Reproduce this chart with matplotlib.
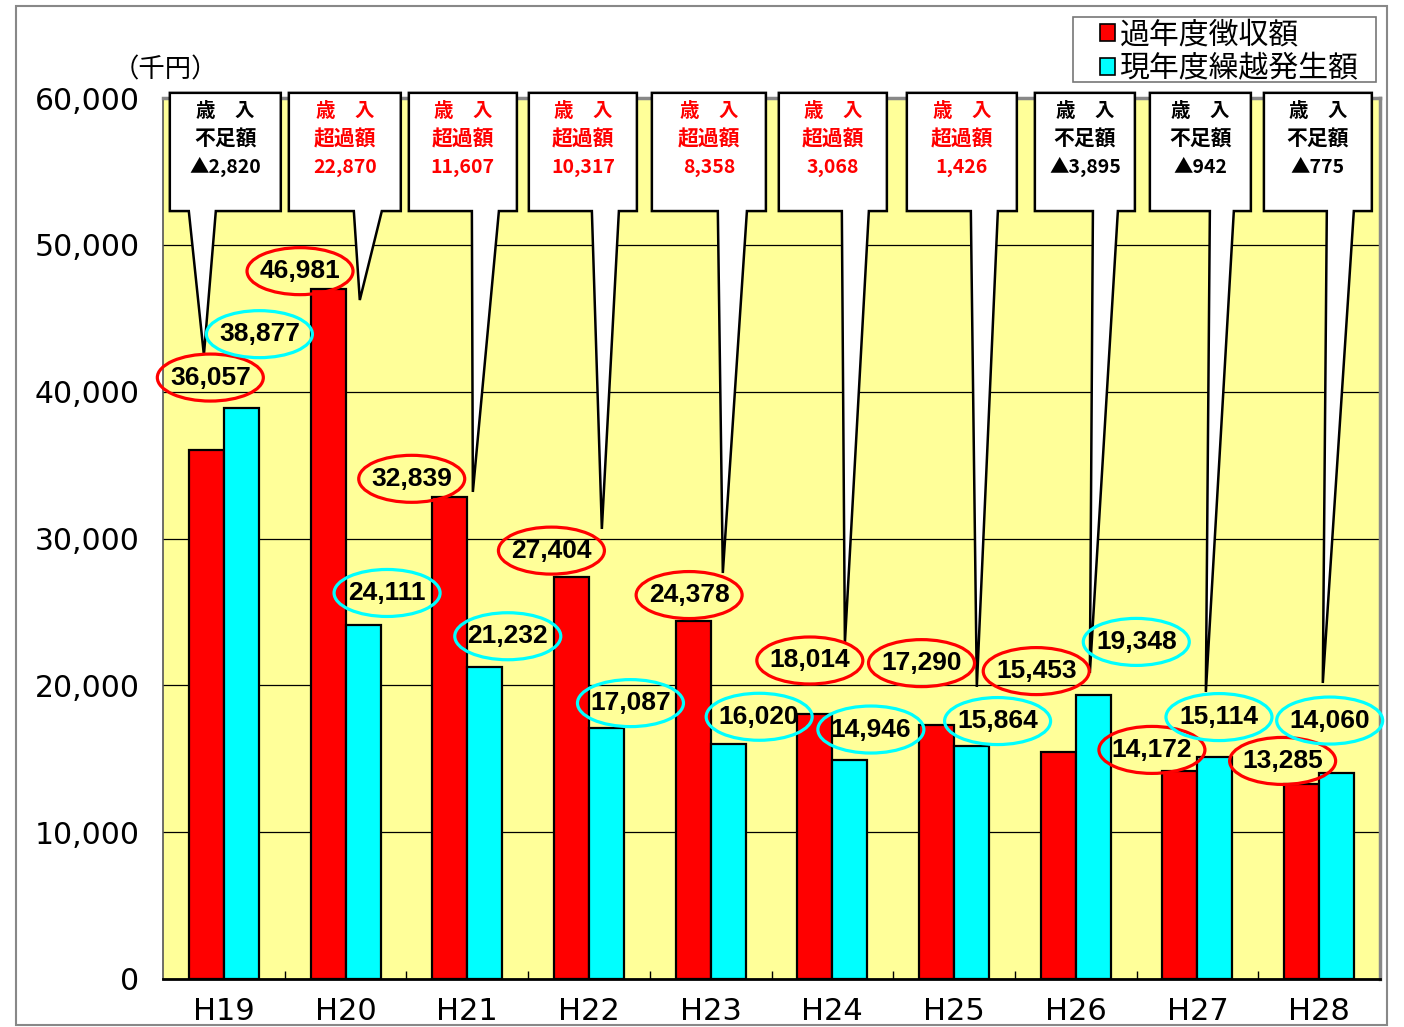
import matplotlib.pyplot as plt
from matplotlib.patches import Patch, Polygon, Rectangle, Ellipse
from matplotlib.ticker import FuncFormatter

# data (千円)
years = ['H19', 'H20', 'H21', 'H22', 'H23', 'H24', 'H25', 'H26', 'H27', 'H28']
collected = [36057, 46981, 32839, 27404, 24378, 18014, 17290, 15453, 14172, 13285]
carried = [38877, 24111, 21232, 17087, 16020, 14946, 15864, 19348, 15114, 14060]
balance = [-2820, 22870, 11607, 10317, 8358, 3068, 1426, -3895, -942, -775]

# layout: label offsets (pixels) from bar tops
red_off = [(4, 72), (-28, 18), (-38, 18), (-20, 26), (-4, 26),
           (-5, 54), (-15, 62), (-22, 81), (-28, 21), (-19, 23)]
cyan_off = [(18, 74), (24, 32), (23, 31), (24, 25), (31, 27),
            (21, 30), (26, 25), (43, 53), (4, 40), (-7, 52)]

# callout geometry: box left/right, wedge base left/right, tip dx, tip y
callout_geo = [
    (-0.444, 0.468, -0.288, -0.066, -0.164, 42500),
    (-0.466, 0.454, 0.068, 0.298, 0.117, 46240),
    (-0.480, 0.408, 0.038, 0.260, 0.046, 33170),
    (-0.494, 0.394, 0.024, 0.246, 0.106, 30650),
    (-0.483, 0.454, 0.059, 0.298, 0.100, 27650),
    (-0.440, 0.448, 0.078, 0.300, 0.103, 22880),
    (-0.388, 0.516, 0.138, 0.360, 0.187, 19890),
    (-0.336, 0.486, 0.141, 0.346, 0.116, 20840),
    (-0.391, 0.439, 0.102, 0.299, 0.069, 19550),
    (-0.454, 0.433, 0.063, 0.285, 0.030, 20160),
]
box_top, box_bot = 60350, 52300
ell_w, ell_h = 106, 47  # ellipse size in pixels

RED = '#FF0000'
CYAN = '#00FFFF'
BG = '#FFFF99'
CJK = ['Noto Sans CJK JP', 'DejaVu Sans']
NUM = ['Liberation Sans', 'Noto Sans CJK JP']

fig = plt.figure(figsize=(14.04, 10.27), dpi=100)
ax = fig.add_axes([163 / 1404, 1 - 979 / 1027, 1217 / 1404, 881 / 1027])
ax.set_facecolor(BG)

x = list(range(len(years)))
w = 0.288
ax.bar([i - w / 2 for i in x], collected, w, color=RED, edgecolor='black', linewidth=1.6, zorder=3)
ax.bar([i + w / 2 for i in x], carried, w, color=CYAN, edgecolor='black', linewidth=1.6, zorder=3)

ax.set_xlim(-0.5, 9.5)
ax.set_ylim(0, 60000)
ax.set_yticks(range(0, 60001, 10000))
ax.yaxis.set_major_formatter(FuncFormatter(lambda v, p: f'{int(v):,}'))
ax.grid(axis='y', color='black', linewidth=0.9, zorder=1)
ax.set_axisbelow(True)
ax.set_xticks(x)
ax.set_xticklabels(years)
ax.set_xticks([i + 0.5 for i in x[:-1]], minor=True)
ax.tick_params(axis='x', which='major', length=0, pad=13, labelsize=22)
ax.tick_params(axis='x', which='minor', direction='in', length=6, width=1)
ax.tick_params(axis='y', length=0, pad=17, labelsize=21.5)
for lab in ax.get_xticklabels() + ax.get_yticklabels():
    lab.set_family('DejaVu Sans')

ax.spines['left'].set_color('#555555')
ax.spines['left'].set_linewidth(1.2)
ax.spines['bottom'].set_color('black')
ax.spines['bottom'].set_linewidth(2)
ax.spines['top'].set_color('#888888')
ax.spines['top'].set_linewidth(2.5)
ax.spines['right'].set_color('#888888')
ax.spines['right'].set_linewidth(2.5)

# pixels per data unit
px_x = ax.bbox.width / 10.0
px_y = ax.bbox.height / 60000.0


def oval_label(xc, val, off, ec):
    cx = xc + off[0] / px_x
    cy = val + off[1] / px_y
    ax.text(cx, cy, f'{val:,}', ha='center', va='center', fontsize=19,
            fontweight='bold', family=NUM, zorder=6)
    ax.add_patch(Ellipse((cx, cy), ell_w / px_x, ell_h / px_y, fc='none',
                         ec=ec, lw=2.3, zorder=6, clip_on=False))


for i in x:
    oval_label(i - w / 2, collected[i], red_off[i], RED)
    oval_label(i + w / 2, carried[i], cyan_off[i], CYAN)

# callouts
for i in x:
    bl, br, wl, wr, tdx, ty = callout_geo[i]
    pts = [(i + bl, box_top), (i + br, box_top), (i + br, box_bot), (i + wr, box_bot),
           (i + tdx, ty), (i + wl, box_bot), (i + bl, box_bot)]
    ax.add_patch(Polygon(pts, closed=True, fc='white', ec='black', lw=1.8,
                         zorder=5, clip_on=False, joinstyle='miter'))
    cx = i + (bl + br) / 2
    if balance[i] >= 0:
        col, word, num = RED, '超過額', f'{balance[i]:,}'
    else:
        col, word, num = 'black', '不足額', f'▲{-balance[i]:,}'
    ax.text(cx, box_top - 1300, '歳　入', ha='center', va='center', color=col,
            fontsize=14, fontweight='bold', family=CJK, zorder=7, clip_on=False)
    ax.text(cx, box_top - 3150, word, ha='center', va='center', color=col,
            fontsize=15, fontweight='bold', family=CJK, zorder=7, clip_on=False)
    ax.text(cx, box_top - 5050, num, ha='center', va='center', color=col,
            fontsize=14, fontweight='bold', family=CJK, zorder=7, clip_on=False)

# unit
fig.text(165 / 1404, 1 - 70 / 1027, '（千円）', ha='center', va='center',
         fontsize=19, family=CJK)

# legend
handles = [Patch(facecolor=RED, edgecolor='black', linewidth=1.2),
           Patch(facecolor=CYAN, edgecolor='black', linewidth=1.2)]
leg = fig.legend(handles, ['過年度徴収額', '現年度繰越発生額'], loc='upper left',
                 bbox_to_anchor=(1100 / 1404, 1 - 19 / 1027), borderaxespad=0,
                 prop={'family': CJK, 'size': 21.5}, frameon=False,
                 handlelength=0.5, handleheight=0.5,
                 handletextpad=0.15, labelspacing=0.12, borderpad=0.0)
fig.patches.append(Rectangle((1073 / 1404, 1 - 82 / 1027), 303 / 1404, 65 / 1027,
                             transform=fig.transFigure, facecolor='white',
                             edgecolor='#777777', linewidth=1.2, zorder=0))

# outer frame
fig.patches.append(Rectangle((16 / 1404, 2 / 1027), 1371 / 1404, 1019 / 1027,
                             transform=fig.transFigure, fill=False,
                             edgecolor='#888888', linewidth=1.5))

fig.savefig('out.png', dpi=100)
